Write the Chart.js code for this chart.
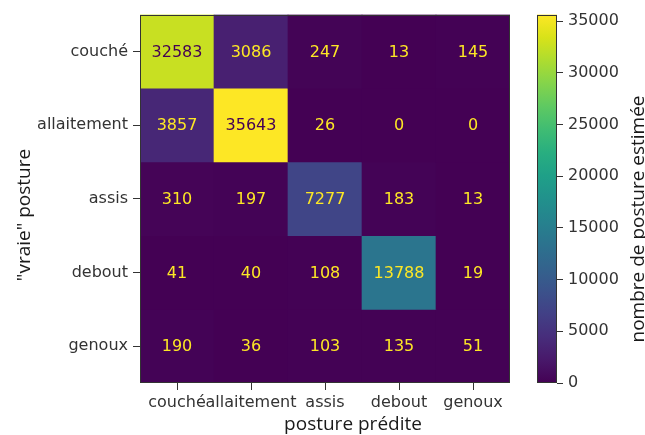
<!DOCTYPE html>
<html>
<head>
<meta charset="utf-8">
<script src="https://cdn.jsdelivr.net/npm/chart.js@4"></script>
<style>
  html, body { margin: 0; padding: 0; background: #ffffff; }
  #wrap { position: relative; width: 645px; height: 435px; overflow: hidden; }
  #matrix { position: absolute; left: 0; top: 0; }
  #scale { position: absolute; left: 520px; top: 0; }
</style>
</head>
<body>
<div id="wrap">
  <canvas id="matrix" width="525" height="435"></canvas>
  <canvas id="scale" width="125" height="435"></canvas>
</div>
<script>
// Posture classes (predicted = columns, true = rows)
const predictedLabels = ['couché', 'allaitement', 'assis', 'debout', 'genoux'];
const trueLabels = ['couché', 'allaitement', 'assis', 'debout', 'genoux'];

// Counts per true posture
const rowCouche      = [32583, 3086, 247, 13, 145];
const rowAllaitement = [3857, 35643, 26, 0, 0];
const rowAssis       = [310, 197, 7277, 183, 13];
const rowDebout      = [41, 40, 108, 13788, 19];
const rowGenoux      = [190, 36, 103, 135, 51];

// Colour bar tick values
const colorbarTicks = [0, 5000, 10000, 15000, 20000, 25000, 30000, 35000];

const xTitle = 'posture prédite';
const yTitle = '"vraie" posture';
const colorbarTitle = 'nombre de posture estimée';

const counts = [rowCouche, rowAllaitement, rowAssis, rowDebout, rowGenoux];
const vmin = Math.min(...counts.flat());
const vmax = Math.max(...counts.flat());
const threshold = (vmin + vmax) / 2;

// Viridis colour map
const VIRIDIS = [
  '#440154', '#48186a', '#472d7b', '#424086', '#3b528b', '#33638d',
  '#2c728e', '#26828e', '#21918c', '#1fa088', '#28ae80', '#3fbc73',
  '#5ec962', '#84d44b', '#addc30', '#d8e219', '#fde725'
];
function hexToRgb(h) {
  return [parseInt(h.slice(1, 3), 16), parseInt(h.slice(3, 5), 16), parseInt(h.slice(5, 7), 16)];
}
function viridis(t) {
  t = Math.max(0, Math.min(1, t));
  const pos = t * (VIRIDIS.length - 1);
  const i = Math.min(Math.floor(pos), VIRIDIS.length - 2);
  const f = pos - i;
  const a = hexToRgb(VIRIDIS[i]), b = hexToRgb(VIRIDIS[i + 1]);
  const c = a.map((v, k) => Math.round(v + (b[k] - v) * f));
  return `rgb(${c[0]},${c[1]},${c[2]})`;
}
const norm = v => (v - vmin) / (vmax - vmin);

const INK = '#333333';
const TICK_FONT = { family: 'DejaVu Sans', size: 16 };
const TITLE_FONT = '19px "Open Sans"';

// Frame (spines) around the plotting area
const framePlugin = {
  id: 'frame',
  afterDatasetsDraw(chart) {
    const { ctx, chartArea: a } = chart;
    ctx.save();
    ctx.strokeStyle = INK;
    ctx.lineWidth = 1;
    ctx.strokeRect(Math.round(a.left) + 0.5, Math.round(a.top) + 0.5,
      Math.round(a.right - a.left) - 1, Math.round(a.bottom - a.top) - 1);
    ctx.restore();
  }
};

// Count written in the middle of every cell
const cellTextPlugin = {
  id: 'cellText',
  afterDatasetsDraw(chart) {
    const { ctx } = chart;
    ctx.save();
    ctx.font = `${TICK_FONT.size}px "${TICK_FONT.family}"`;
    ctx.textAlign = 'center';
    ctx.textBaseline = 'middle';
    chart.data.datasets.forEach((ds, r) => {
      chart.getDatasetMeta(r).data.forEach((bar, c) => {
        const p = bar.getProps(['x', 'y', 'base'], true);
        const v = counts[r][c];
        ctx.fillStyle = v < threshold ? VIRIDIS[VIRIDIS.length - 1] : VIRIDIS[0];
        ctx.fillText(String(v), p.x, (p.y + p.base) / 2 + 1);
      });
    });
    ctx.restore();
  }
};

// Axis titles of the matrix
const matrixTitlesPlugin = {
  id: 'matrixTitles',
  afterDraw(chart) {
    const { ctx } = chart;
    ctx.save();
    ctx.fillStyle = '#1a1a1a';
    ctx.font = TITLE_FONT;
    ctx.textAlign = 'center';
    ctx.textBaseline = 'middle';
    ctx.fillText(xTitle, 353, 425);
    ctx.translate(25, 215);
    ctx.rotate(-Math.PI / 2);
    ctx.fillText(yTitle, 0, 0);
    ctx.restore();
  }
};

new Chart(document.getElementById('matrix'), {
  type: 'bar',
  data: {
    labels: predictedLabels,
    datasets: counts.map((row, r) => ({
      label: trueLabels[r],
      data: row.map(() => [r - 0.5, r + 0.5]),
      backgroundColor: row.map(v => viridis(norm(v))),
      borderWidth: 0,
      grouped: false,
      barPercentage: 1,
      categoryPercentage: 1
    }))
  },
  options: {
    responsive: false,
    animation: false,
    devicePixelRatio: 1,
    layout: { padding: { left: 0, top: 12, right: 15, bottom: 0 } },
    plugins: { legend: { display: false }, tooltip: { enabled: false } },
    scales: {
      x: {
        type: 'category',
        grid: { offset: false, drawOnChartArea: false, drawTicks: true, tickLength: 7, color: INK },
        border: { display: false },
        ticks: { color: INK, font: TICK_FONT, padding: 3, maxRotation: 0, minRotation: 0, autoSkip: false },
        afterFit(s) { s.height = 52; }
      },
      y: {
        type: 'linear',
        reverse: true,
        min: -0.5,
        max: 4.5,
        afterBuildTicks(s) { s.ticks = trueLabels.map((_, i) => ({ value: i })); },
        grid: { drawOnChartArea: false, drawTicks: true, tickLength: 7, color: INK },
        border: { display: false },
        ticks: { color: INK, font: TICK_FONT, padding: 5, callback: v => trueLabels[v] },
        afterFit(s) { s.width = 140; }
      }
    }
  },
  plugins: [cellTextPlugin, framePlugin, matrixTitlesPlugin]
});

// Colour bar
const colorbarTitlePlugin = {
  id: 'colorbarTitle',
  afterDraw(chart) {
    const { ctx } = chart;
    ctx.save();
    ctx.fillStyle = '#1a1a1a';
    ctx.font = TITLE_FONT;
    ctx.textAlign = 'center';
    ctx.textBaseline = 'middle';
    ctx.translate(119, 219);
    ctx.rotate(-Math.PI / 2);
    ctx.fillText(colorbarTitle, 0, 0);
    ctx.restore();
  }
};

new Chart(document.getElementById('scale'), {
  type: 'bar',
  data: {
    labels: [''],
    datasets: [{
      data: [[vmin, vmax]],
      backgroundColor(ctx) {
        const chart = ctx.chart;
        const ys = chart.scales.y;
        if (!ys || !chart.chartArea) return VIRIDIS[0];
        const g = chart.ctx.createLinearGradient(0, ys.getPixelForValue(vmin), 0, ys.getPixelForValue(vmax));
        VIRIDIS.forEach((c, i) => g.addColorStop(i / (VIRIDIS.length - 1), c));
        return g;
      },
      borderWidth: 0,
      barPercentage: 1,
      categoryPercentage: 1
    }]
  },
  options: {
    responsive: false,
    animation: false,
    devicePixelRatio: 1,
    layout: { padding: { left: 17, top: 12, right: 0, bottom: 52 } },
    plugins: { legend: { display: false }, tooltip: { enabled: false } },
    scales: {
      x: { display: false },
      y: {
        position: 'right',
        min: vmin,
        max: vmax,
        afterBuildTicks(s) { s.ticks = colorbarTicks.map(v => ({ value: v })); },
        grid: { drawOnChartArea: false, drawTicks: true, tickLength: 6, color: INK },
        border: { display: false },
        ticks: { color: INK, font: TICK_FONT, padding: 5, callback: v => String(v) },
        afterFit(s) { s.width = 88; }
      }
    }
  },
  plugins: [framePlugin, colorbarTitlePlugin]
});
</script>
</body>
</html>
